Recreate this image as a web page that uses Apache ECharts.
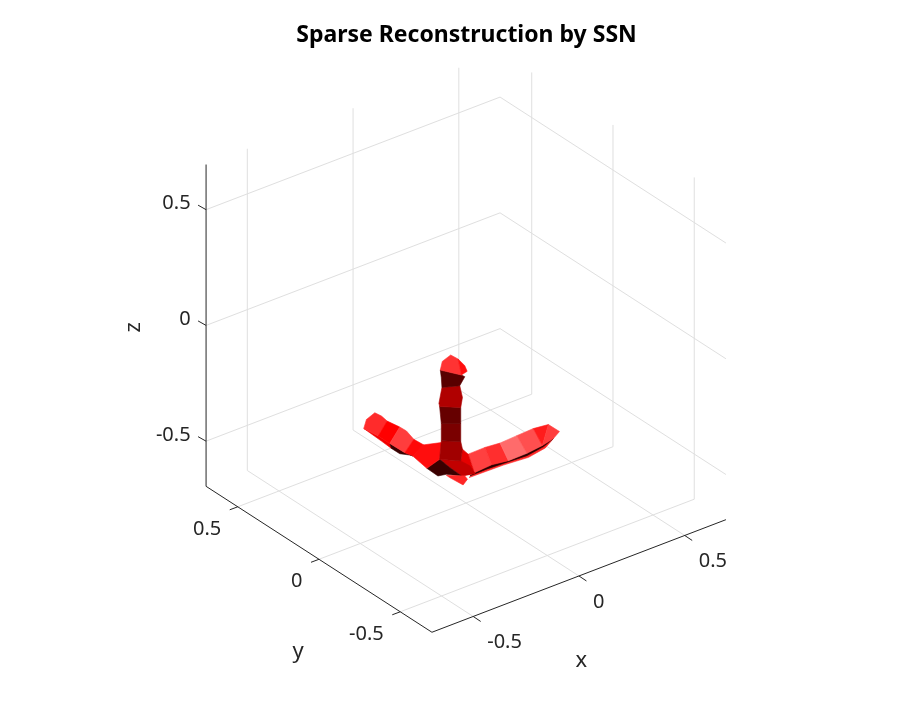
<!DOCTYPE html>
<html><head><meta charset="utf-8">
<style>html,body{margin:0;padding:0;background:#fff}#c{width:900px;height:711px}</style>
<script src="https://cdn.jsdelivr.net/npm/echarts@6/dist/echarts.min.js"></script>
</head><body><div id="c"></div>
<script>
const titleText = 'Sparse Reconstruction by SSN';
const xTicks = [-0.5, 0, 0.5];
const yTicks = [-0.5, 0, 0.5];
const zTicks = [-0.5, 0, 0.5];
const xRange = [-0.695, 0.695];
const yRange = [-0.695, 0.695];
const zRange = [-0.695, 0.695];

// Surface vertices (data units)
const vertexX = [-.1216,-.1121,-.0724,-.0375,-.0216,-.0057,.0054,-.0057,-.0295,-.1137,-.1168,-.0168,-.0248,-.1279,-.1248,-.0248,-.1168,-.0248,-.1168,-.0168,-.0248,-.1248,-.1851,-.1327,-.0930,-.0216,-.0771,.0181,.0419,.0102,-.2041,-.2517,-.1168,-.0930,-.0057,.0070,-.0137,-.0771,.0895,.1610,.2403,.3181,.3895,.4419,.4133,.3610,.2879,.2006,.1213,.0419,.3673,.2879,.1768,.0975,.0181,.3752,.2959,.1768,.0149,0,0,0,0,0,0,0,0,0,0,0,0,0,0,0,0,0];
const vertexY = [0,0,0,0,0,0,0,0,0,0,0,0,0,0,0,0,0,0,0,0,0,0,0,0,0,0,0,0,0,0,0,0,0,0,0,0,0,0,0,0,0,0,0,0,0,0,0,0,0,0,0,0,0,0,0,0,0,0,0,.629,.6126,.5612,.5202,.4854,.5408,.4075,.469,.3664,.3212,.3766,.2597,.3254,.4587,.4075,.3458,.5202];
const vertexZ = [-.0783,-.0441,-.0304,-.0599,-.1346,-.0998,-.1281,-.1474,-.1781,-.1561,-.1117,-.2330,-.2735,-.2189,-.2345,-.3428,-.3108,-.4207,-.3858,-.4566,-.5044,-.4625,-.4805,-.5318,-.5384,-.5704,-.5151,-.5409,-.5824,-.4876,-.3729,-.4039,-.3931,-.5427,-.5759,-.5948,-.6121,-.5583,-.4864,-.4924,-.4882,-.4849,-.4924,-.5409,-.5613,-.5733,-.5812,-.5826,-.5724,-.5780,-.5799,-.5913,-.5859,-.5829,-.5842,-.5884,-.6013,-.5931,-.5903,-.6584,-.6120,-.5597,-.5554,-.5612,-.6514,-.5517,-.6504,-.5502,-.5657,-.6486,-.5622,-.6397,-.6674,-.6671,-.6447,-.6636];

// Faces (vertex indices), listed back to front, with their light level
const faces = [
  [49,48,47,46,45,44,55,56,57,58],
  [49,48,47,46,45,44,50,51,52,53,54],
  [29,38,48,49],[38,39,47,48],[39,40,46,47],[40,41,45,46],[41,42,45],[42,43,44,45],
  [59,64,66,72,75],[66,69,71,74,73,72],
  [59,60,61,62,63,64],[63,65,66,64],[65,67,68,69,66],[68,70,71,69],
  [19,29,28,25,20],[21,20,27,28,25,26],
  [21,22,23,24,25,26],[32,21,22,31,30],
  [33,34,35,36,37],
  [18,17,19,20,21],[16,15,17,18],[14,12,15,16],[9,8,11,12,14,13],
  [0,4,7,8,9,10],[0,1,2,3,4],[3,5,6,4]
];
const faceLight = [1.15,0.18,1.25,1.18,1.42,1.31,1.11,1.24,0.95,0.22,1.17,1.0,1.24,1.03,0.9,0.76,0.23,1.05,1.15,0.63,0.48,0.4,0.69,0.35,1.2,1.06];

const O = [466, 342.1], UX = [211.5, -81], UY = [-162.5, -105], UZ = [0, -231.5];
const project = (x, y, z) => [O[0] + UX[0]*x + UY[0]*y, O[1] + UX[1]*x + UY[1]*y + UZ[1]*z];
const lightColor = s => s <= 1 ? `rgb(${Math.round(255*s)},0,0)` : `rgb(255,${Math.round(255*(s-1))},${Math.round(255*(s-1))})`;

const [x0, x1] = xRange, [y0, y1] = yRange, [z0, z1] = zRange;
const gridSegs = [];
xTicks.forEach(t => { gridSegs.push([[t,y0,z0],[t,y1,z0]]); gridSegs.push([[t,y1,z0],[t,y1,z1]]); });
yTicks.forEach(t => { gridSegs.push([[x0,t,z0],[x1,t,z0]]); gridSegs.push([[x1,t,z0],[x1,t,z1]]); });
zTicks.forEach(t => { gridSegs.push([[x0,y1,t],[x1,y1,t]]); gridSegs.push([[x1,y1,t],[x1,y0,t]]); });

const axisSegs = [
  [[x0,y0,z0],[x1,y0,z0]],
  [[x0,y0,z0],[x0,y1,z0]],
  [[x0,y1,z0],[x0,y1,z1]]
];
const tickSegs = [];
xTicks.forEach(t => tickSegs.push({p:[t,y0,z0], d:[7.5,5]}));
yTicks.forEach(t => tickSegs.push({p:[x0,t,z0], d:[-8,3]}));
zTicks.forEach(t => tickSegs.push({p:[x0,y1,t], d:[-8,-4.5]}));

const labels = [];
const fmt = t => String(t);
xTicks.forEach(t => labels.push({p:[t,y0,z0], t:fmt(t), dx:14, dy:26, a:'left', s:20}));
yTicks.forEach(t => labels.push({p:[x0,t,z0], t:fmt(t), dx:-16.5, dy:22.5, a:'right', s:20}));
zTicks.forEach(t => labels.push({p:[x0,y1,t], t:fmt(t), dx:-15.5, dy:-6, a:'right', s:20}));
labels.push({p:[0,y0,z0], t:'x', dx:2.3, dy:85, a:'center', s:22});
labels.push({p:[x0,0,z0], t:'y', dx:-21, dy:92.5, a:'center', s:22});
labels.push({p:[x0,y1,0], t:'z', dx:-72.7, dy:2, a:'center', r:Math.PI/2, s:22});

const pt = (api, p, d) => { const q = project(p[0],p[1],p[2]); return api.coord([q[0]+(d?d[0]:0), q[1]+(d?d[1]:0)]); };
const FONT = '"Noto Sans"';

const lineSeries = (name, segs, color, z) => ({
  type:'custom', name, coordinateSystem:'cartesian2d', z, silent:true, clip:false,
  data: segs.map((_, i) => [i, i]), encode:{x:0,y:1},
  renderItem(params, api) {
    const s = segs[params.dataIndex];
    const a = pt(api, s[0]), b = pt(api, s[1]);
    return {type:'line', shape:{x1:a[0],y1:a[1],x2:b[0],y2:b[1]}, style:{stroke:color, lineWidth:1, fill:null}};
  }
});

const chart = echarts.init(document.getElementById('c'), null, {renderer:'canvas'});
chart.setOption({
  animation:false,
  backgroundColor:'#fff',
  title:{text:titleText, left:461.5, top:18.5, textAlign:'center',
    textStyle:{fontFamily:FONT, fontWeight:'bold', fontSize:23, color:'#000'}},
  grid:{left:0, top:0, width:900, height:711},
  xAxis:{type:'value', min:0, max:900, show:false},
  yAxis:{type:'value', min:0, max:711, inverse:true, show:false},
  series:[
    lineSeries('grid', gridSegs, '#dfdfdf', 1),
    lineSeries('axes', axisSegs, '#262626', 2),
    {
      type:'custom', name:'ticks', coordinateSystem:'cartesian2d', z:2, silent:true, clip:false,
      data: tickSegs.map((_, i) => [i, i]), encode:{x:0,y:1},
      renderItem(params, api) {
        const s = tickSegs[params.dataIndex];
        const a = pt(api, s.p), b = pt(api, s.p, s.d);
        return {type:'line', shape:{x1:a[0],y1:a[1],x2:b[0],y2:b[1]}, style:{stroke:'#262626', lineWidth:1, fill:null}};
      }
    },
    {
      type:'custom', name:'labels', coordinateSystem:'cartesian2d', z:3, silent:true, clip:false,
      data: labels.map((_, i) => [i, i]), encode:{x:0,y:1},
      renderItem(params, api) {
        const l = labels[params.dataIndex];
        const c = pt(api, l.p, [l.dx, l.dy]);
        return {type:'text', x:c[0], y:c[1], rotation:l.r||0,
          style:{text:l.t, fill:'#262626', font:l.s+'px '+FONT, textAlign:l.a, textVerticalAlign:'middle'}};
      }
    },
    {
      type:'custom', name:'surface', coordinateSystem:'cartesian2d', z:4, silent:true, clip:false,
      data: faces.map((_, i) => [i, i]), encode:{x:0,y:1},
      renderItem(params, api) {
        const f = faces[params.dataIndex];
        const pts = f.map(i => pt(api, [vertexX[i], vertexY[i], vertexZ[i]]));
        const col = lightColor(faceLight[params.dataIndex]);
        return {type:'polygon', shape:{points:pts}, style:{fill:col, stroke:col, lineWidth:0.6}};
      }
    }
  ]
});
</script></body></html>
